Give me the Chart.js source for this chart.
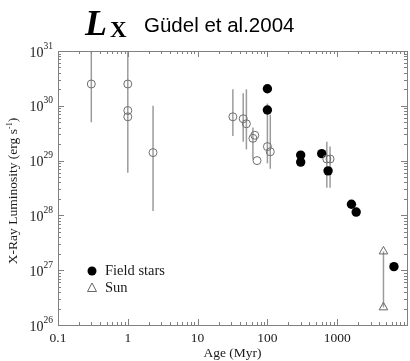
<!DOCTYPE html>
<html>
<head>
<meta charset="utf-8">
<script src="https://cdn.jsdelivr.net/npm/chart.js@4/dist/chart.umd.min.js"></script>
<style>
  html, body { margin: 0; padding: 0; background: #fff; overflow: hidden; width: 410px; height: 361px; }
  canvas { display: block; }
</style>
</head>
<body>
<canvas id="c" width="413" height="361"></canvas>
<script>
// Young stars and open-cluster members (age in Myr, L_X in erg/s)
const clusterAges = [0.3, 1, 1, 1, 2.3, 32, 45, 50, 62, 66, 71, 100, 110, 710, 790];
const clusterLx   = [2.5e30, 2.5e30, 8.2e29, 6.3e29, 1.4e29, 6.3e29, 5.8e29, 4.7e29,
                     2.55e29, 2.9e29, 1.0e29, 1.8e29, 1.45e29, 1.07e29, 1.07e29];

// Ranges of L_X (vertical bars)
const rangeAges = [0.3, 1, 2.3, 32, 45, 50, 62, 100, 110, 710, 790, 4600];
const rangeLow  = [5e29, 6e28, 1.2e28, 2.8e29, 2.2e29, 1.6e29, 1.05e29, 8.9e28, 7.1e28, 3.2e28, 3.2e28, 2.1e26];
const rangeHigh = [1e31, 1e31, 1e30, 2.0e30, 1.7e30, 2.0e30, 4e29, 1.1e30, 6.9e29, 2.2e29, 1.8e29, 2.2e27];

// Field stars
const fieldAges = [100, 100, 300, 300, 600, 740, 1600, 1870, 6500];
const fieldLx   = [2.05e30, 8.4e29, 1.26e29, 9.4e28, 1.34e29, 6.5e28, 1.6e28, 1.15e28, 1.16e27];

// The Sun: activity minimum and maximum
const sunAges = [4600, 4600];
const sunLx   = [2.2e27, 2.1e26];

// Axis labelling
const xTickValues = [0.1, 1, 10, 100, 1000];
const xTickLabels = ['0.1', '1', '10', '100', '1000'];
const yTickExponents = [26, 27, 28, 29, 30, 31];

const toPoints = (xs, ys) => xs.map((x, i) => ({ x: x, y: ys[i] }));

const AXIS = '#808080';
const SERIF = '"Liberation Serif", "Times New Roman", serif';

// Vertical range bars, drawn below the markers
const rangeBars = {
  id: 'rangeBars',
  beforeDatasetsDraw(chart) {
    const { ctx, scales: { x, y } } = chart;
    ctx.save();
    ctx.strokeStyle = '#9c9c9c';
    ctx.lineWidth = 1.5;
    rangeAges.forEach((a, i) => {
      const px = x.getPixelForValue(a);
      ctx.beginPath();
      ctx.moveTo(px, y.getPixelForValue(rangeLow[i]));
      ctx.lineTo(px, y.getPixelForValue(rangeHigh[i]));
      ctx.stroke();
    });
    ctx.restore();
  }
};

// Box frame with inward log ticks, tick labels, axis titles, legend and heading
const decorations = {
  id: 'decorations',
  afterDraw(chart) {
    const { ctx, chartArea: ca, scales: { x, y } } = chart;
    ctx.save();
    ctx.strokeStyle = AXIS;
    ctx.lineWidth = 1;
    ctx.strokeRect(Math.round(ca.left) + 0.5, Math.round(ca.top) + 0.5,
                   Math.round(ca.right - ca.left), Math.round(ca.bottom - ca.top));

    const MAJ = 6, MIN = 3;
    // x ticks (bottom and top)
    for (let e = -1; e <= 4; e++) {
      for (let k = 1; k <= 9; k++) {
        const v = k * Math.pow(10, e);
        if (v < x.min * 0.999 || v > x.max * 1.001) continue;
        const px = Math.round(x.getPixelForValue(v)) + 0.5;
        const len = k === 1 ? MAJ : MIN;
        ctx.beginPath();
        ctx.moveTo(px, ca.bottom); ctx.lineTo(px, ca.bottom - len);
        ctx.moveTo(px, ca.top); ctx.lineTo(px, ca.top + len);
        ctx.stroke();
      }
    }
    // y ticks (left and right)
    for (let e = 26; e <= 31; e++) {
      for (let k = 1; k <= 9; k++) {
        const v = k * Math.pow(10, e);
        if (v < y.min * 0.999 || v > y.max * 1.001) continue;
        const py = Math.round(y.getPixelForValue(v)) + 0.5;
        const len = k === 1 ? MAJ : MIN;
        ctx.beginPath();
        ctx.moveTo(ca.left, py); ctx.lineTo(ca.left + len, py);
        ctx.moveTo(ca.right, py); ctx.lineTo(ca.right - len, py);
        ctx.stroke();
      }
    }

    ctx.fillStyle = '#1a1a1a';
    // x tick labels
    ctx.font = '13.5px ' + SERIF;
    ctx.textAlign = 'center';
    ctx.textBaseline = 'middle';
    xTickValues.forEach((v, i) => {
      ctx.fillText(xTickLabels[i], x.getPixelForValue(v), ca.bottom + 13);
    });
    // y tick labels: 10 with superscript exponent
    yTickExponents.forEach(ex => {
      const py = y.getPixelForValue(Math.pow(10, ex));
      ctx.font = '14px ' + SERIF;
      ctx.textAlign = 'right';
      ctx.textBaseline = 'alphabetic';
      ctx.fillText('10', ca.left - 14.5, py + 5.5);
      ctx.font = '9.5px ' + SERIF;
      ctx.textAlign = 'left';
      ctx.fillText(String(ex), ca.left - 14.5, py - 2.5);
    });

    // x axis title
    ctx.font = '13.5px ' + SERIF;
    ctx.textAlign = 'center';
    ctx.textBaseline = 'alphabetic';
    ctx.fillText('Age (Myr)', (ca.left + ca.right) / 2, 357);

    // y axis title (rotated) with superscript -1
    ctx.save();
    ctx.translate(17, (ca.top + ca.bottom) / 2 + 3);
    ctx.rotate(-Math.PI / 2);
    const main = 'X-Ray Luminosity (erg s', sup = '-1', close = ')';
    ctx.font = '13.5px ' + SERIF;
    const wMain = ctx.measureText(main).width, wClose = ctx.measureText(close).width;
    ctx.font = '8px ' + SERIF;
    const wSup = ctx.measureText(sup).width;
    const total = wMain + wSup + wClose;
    let sx = -total / 2;
    ctx.textAlign = 'left';
    ctx.font = '13.5px ' + SERIF;
    ctx.fillText(main, sx, 0);
    ctx.font = '8px ' + SERIF;
    ctx.fillText(sup, sx + wMain, -5);
    ctx.font = '13.5px ' + SERIF;
    ctx.fillText(close, sx + wMain + wSup, 0);
    ctx.restore();

    // legend
    const lx = ca.left + 34, ly1 = 271, ly2 = 288;
    ctx.fillStyle = '#000';
    ctx.beginPath(); ctx.arc(lx, ly1, 4.5, 0, Math.PI * 2); ctx.fill();
    ctx.strokeStyle = '#666';
    ctx.beginPath();
    ctx.moveTo(lx, ly2 - 5); ctx.lineTo(lx + 4.5, ly2 + 3.5); ctx.lineTo(lx - 4.5, ly2 + 3.5); ctx.closePath();
    ctx.stroke();
    ctx.fillStyle = '#1a1a1a';
    ctx.font = '14.5px ' + SERIF;
    ctx.textAlign = 'left';
    ctx.textBaseline = 'middle';
    ctx.fillText('Field stars', lx + 13, ly1 + 0.5);
    ctx.fillText('Sun', lx + 13, ly2 + 0.5);

    // heading: L with subscript X, then the citation
    ctx.fillStyle = '#000';
    ctx.textBaseline = 'alphabetic';
    ctx.font = 'italic bold 36px ' + SERIF;
    ctx.fillText('L', 85, 35);
    const wL = ctx.measureText('L').width;
    ctx.font = 'bold 23px ' + SERIF;
    ctx.fillText('X', 85 + wL + 3, 37);
    ctx.font = '20.5px "Liberation Sans", Arial, sans-serif';
    ctx.fillText('Güdel et al.2004', 144, 32);
    ctx.restore();
  }
};

new Chart(document.getElementById('c'), {
  type: 'scatter',
  data: {
    datasets: [
      {
        label: 'Clusters',
        data: toPoints(clusterAges, clusterLx),
        pointStyle: 'circle',
        pointRadius: 4,
        borderWidth: 1,
        borderColor: '#6e6e6e',
        backgroundColor: 'rgba(0,0,0,0)'
      },
      {
        label: 'Field stars',
        data: toPoints(fieldAges, fieldLx),
        pointStyle: 'circle',
        pointRadius: 4.7,
        borderWidth: 0,
        borderColor: '#000',
        backgroundColor: '#000'
      },
      {
        label: 'Sun',
        data: toPoints(sunAges, sunLx),
        pointStyle: 'triangle',
        pointRadius: 5,
        borderWidth: 1,
        borderColor: '#666',
        backgroundColor: 'rgba(0,0,0,0)'
      }
    ]
  },
  options: {
    responsive: false,
    animation: false,
    devicePixelRatio: 1,
    layout: { padding: { left: 58, right: 1, top: 51, bottom: 36 } },
    plugins: { legend: { display: false }, tooltip: { enabled: false }, title: { display: false } },
    scales: {
      x: { type: 'logarithmic', min: 0.1, max: 10000, display: false },
      y: { type: 'logarithmic', min: 1e26, max: 1e31, display: false }
    }
  },
  plugins: [rangeBars, decorations]
});
</script>
</body>
</html>
